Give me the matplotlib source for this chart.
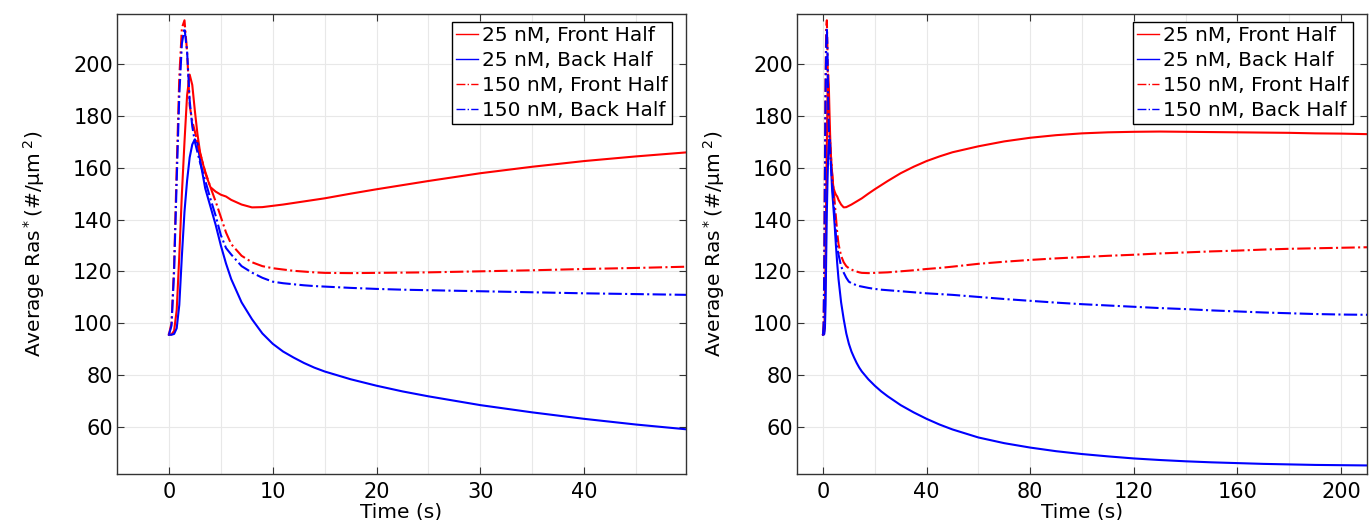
import numpy as np
import matplotlib.pyplot as plt
from matplotlib.ticker import MultipleLocator

# time points (s)
t = [0, 0.25, 0.5, 0.75, 1.0, 1.25, 1.5, 1.75, 2.0, 2.25, 2.5, 2.75, 3.0, 3.5, 4.0, 4.5, 5.0, 5.5,
     6, 7, 8, 9, 10, 11, 12, 13, 14, 15, 17.5, 20, 22.5, 25, 30, 35, 40, 45, 50,
     60, 70, 80, 90, 100, 110, 120, 130, 140, 150, 160, 170, 180, 190, 200, 210]

# 25 nM
front_25 = [95.5, 95.6, 97, 105, 126, 150, 170, 188, 196, 192, 182, 173, 166, 158, 152.5, 150.8, 149.6, 148.9,
            147.6, 145.8, 144.7, 144.8, 145.3, 145.8, 146.4, 147.0, 147.6, 148.2, 150.0, 151.7, 153.3, 154.9,
            157.9, 160.4, 162.6, 164.4, 166.0,
            168.3, 170.2, 171.6, 172.6, 173.3, 173.7, 173.9, 174.0, 173.9, 173.8, 173.7, 173.6, 173.5, 173.3,
            173.2, 173.0]
back_25 = [95.5, 95.5, 95.8, 98, 107, 126, 143, 155, 164, 169, 171, 169.5, 163, 152, 145, 138, 130, 123,
           117, 108, 101.5, 96, 92, 89.0, 86.7, 84.6, 82.8, 81.3, 78.3, 75.8, 73.6, 71.7,
           68.3, 65.5, 63.0, 60.8, 58.9,
           55.8, 53.6, 51.9, 50.5, 49.4, 48.5, 47.7, 47.1, 46.6, 46.2, 45.9, 45.6, 45.4, 45.2, 45.1, 45.0]

# 150 nM
front_150 = [95.5, 100, 122, 160, 195, 214, 217, 205, 184, 178, 174, 170, 165.5, 158.5, 152.5, 147, 141, 135,
             130.5, 126, 123.5, 122, 121.2, 120.7, 120.2, 119.9, 119.6, 119.4, 119.3, 119.4, 119.5, 119.6,
             120.0, 120.4, 120.9, 121.3, 121.8,
             122.9, 123.7, 124.4, 125.0, 125.5, 126.0, 126.4, 126.9, 127.3, 127.7, 128.0, 128.4, 128.7, 128.9,
             129.1, 129.3]
back_150 = [95.5, 99, 120, 155, 188, 208, 214, 205, 186, 176, 170, 166, 162, 155, 148, 141.5, 134, 129,
            126.5, 122, 119.5, 117.5, 116.0, 115.4, 115.0, 114.6, 114.3, 114.1, 113.6, 113.2, 112.9, 112.7,
            112.3, 111.9, 111.5, 111.2, 110.9,
            110.1, 109.3, 108.6, 107.9, 107.3, 106.8, 106.3, 105.8, 105.4, 104.9, 104.5, 104.1, 103.8, 103.5,
            103.3, 103.2]

labels = ['25 nM, Front Half', '25 nM, Back Half', '150 nM, Front Half', '150 nM, Back Half']

plt.rcParams['font.family'] = 'DejaVu Sans'

fig = plt.figure(figsize=(13.7, 5.2), dpi=100)
ax1 = fig.add_axes([0.0854, 0.0885, 0.4153, 0.8845])
ax2 = fig.add_axes([0.5818, 0.0885, 0.416, 0.8845])

panels = [(ax1, (-5, 49.8), 10, 5), (ax2, (-10, 210), 40, 20)]

for ax, xlim, major, minor in panels:
    ax.plot(t, front_25, color='#ff0000', lw=1.5, label=labels[0])
    ax.plot(t, back_25, color='#0000ff', lw=1.5, label=labels[1])
    ax.plot(t, front_150, color='#ff0000', lw=1.5, ls='-.', label=labels[2])
    ax.plot(t, back_150, color='#0000ff', lw=1.5, ls='-.', label=labels[3])

    ax.set_xlim(*xlim)
    ax.set_ylim(41.7, 219.4)
    ax.xaxis.set_major_locator(MultipleLocator(major))
    ax.xaxis.set_minor_locator(MultipleLocator(minor))
    ax.yaxis.set_major_locator(MultipleLocator(20))
    ax.grid(True, which='both', axis='x', color='#e8e8e8', lw=0.8)
    ax.grid(True, which='major', axis='y', color='#e8e8e8', lw=0.8)
    ax.set_axisbelow(True)
    ax.tick_params(which='major', direction='in', length=5, top=True, right=True,
                   labelsize=15, color='#333333')
    ax.tick_params(axis='x', which='major', pad=6)
    ax.tick_params(axis='y', which='major', pad=3)
    ax.tick_params(which='minor', length=0)
    for s in ax.spines.values():
        s.set_color('#333333')
        s.set_linewidth(1.0)

    ax.set_xlabel('Time (s)', fontsize=14.5, labelpad=0)
    ax.set_ylabel(r'Average Ras$^*$(#/μm$^{\ 2}$)', fontsize=14.5, labelpad=19)

    leg = ax.legend(loc='upper right', bbox_to_anchor=(0.9755, 0.983), fontsize=14.5,
                    handlelength=1.1, handletextpad=0.2, borderpad=0.2, labelspacing=0.3,
                    fancybox=False, framealpha=1, borderaxespad=0)
    leg.get_frame().set_edgecolor('black')
    leg.get_frame().set_linewidth(1.0)
    for line in leg.get_lines():
        line.set_linewidth(1.0)

fig.savefig('out.png', dpi=100)
